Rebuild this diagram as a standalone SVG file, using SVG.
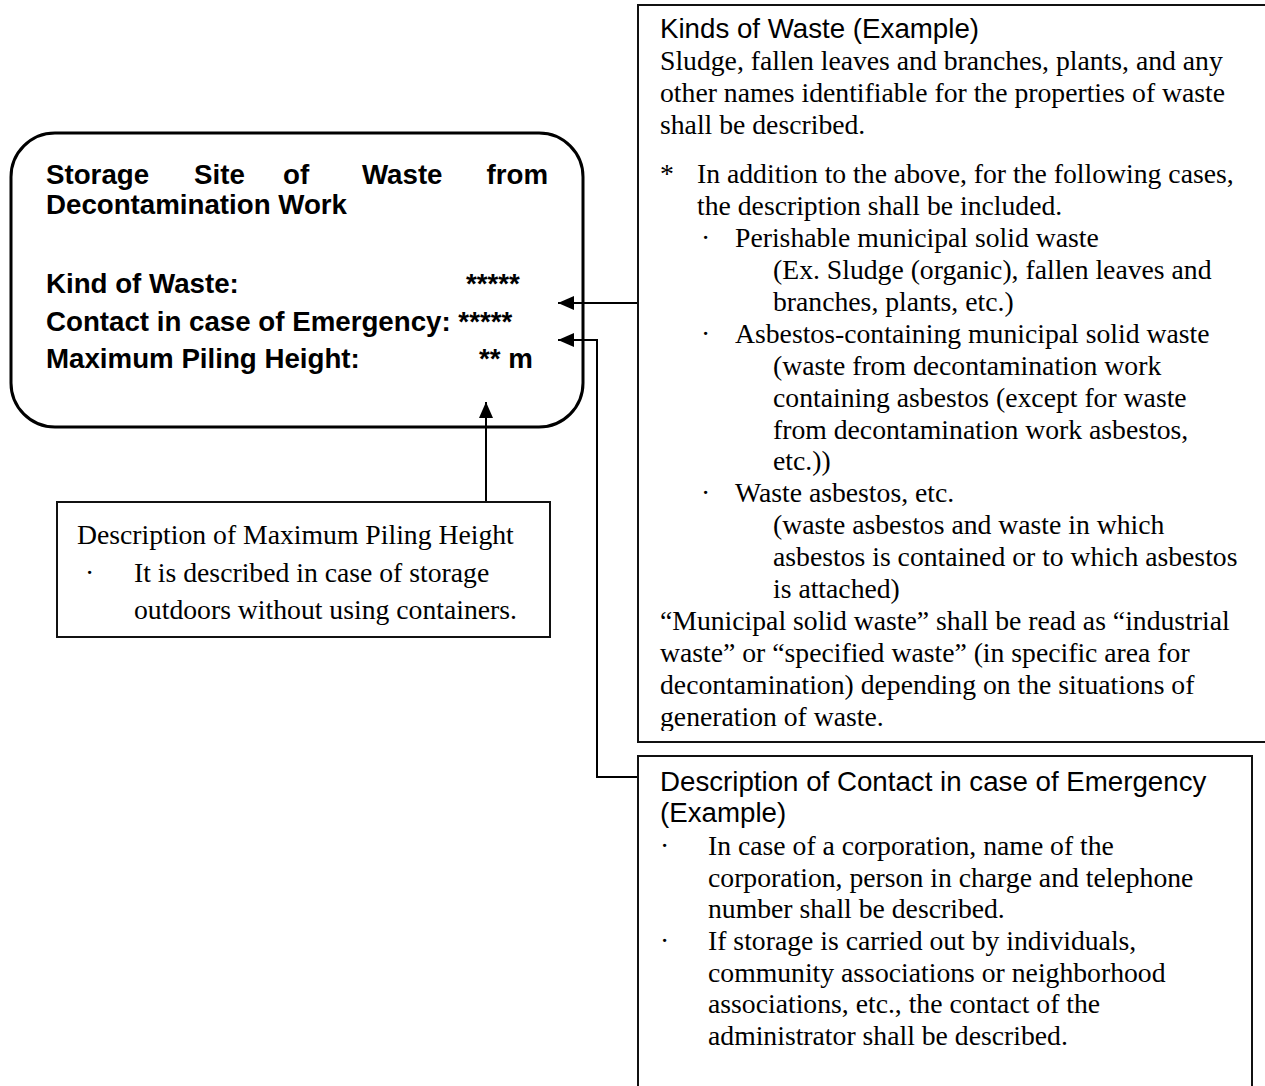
<svg xmlns="http://www.w3.org/2000/svg" width="1265" height="1086" viewBox="0 0 1265 1086">
<style>
.sb{font-family:"Liberation Sans",Arial,sans-serif;font-weight:bold;font-size:27.7px;fill:#000}
.s{font-family:"Liberation Sans",Arial,sans-serif;font-size:27.7px;fill:#000}
.t{font-family:"Liberation Serif","Times New Roman",serif;font-size:27.7px;fill:#000}
.box{fill:#fff;stroke:#111;stroke-width:2}
.con{fill:none;stroke:#000;stroke-width:2}
</style>
<defs>
<marker id="ah" viewBox="0 0 16 14" refX="16" refY="7" markerWidth="16" markerHeight="14" markerUnits="userSpaceOnUse" orient="auto">
<path d="M0,0 L16,7 L0,14 Z" fill="#000"/>
</marker>
<clipPath id="clipDesc"><rect x="57" y="502" width="493" height="123"/></clipPath>
<clipPath id="clipKinds"><rect x="638" y="5" width="627" height="726"/></clipPath>
</defs>
<rect width="1265" height="1086" fill="#fff"/>

<g id="connectors">
<line class="con" x1="638" y1="303" x2="558" y2="303" marker-end="url(#ah)"/>
<polyline class="con" points="638,777 597,777 597,340 558,340" marker-end="url(#ah)"/>
<line class="con" x1="486" y1="502" x2="486" y2="402" marker-end="url(#ah)"/>
</g>

<g id="sign">
<rect x="11" y="133" width="572" height="294" rx="44" ry="44" fill="none" stroke="#000" stroke-width="3"/>
<text class="sb" x="46" y="184">Storage</text>
<text class="sb" x="194" y="184">Site</text>
<text class="sb" x="283" y="184">of</text>
<text class="sb" x="362" y="184">Waste</text>
<text class="sb" x="548" y="184" text-anchor="end">from</text>
<text class="sb" x="46" y="214">Decontamination Work</text>
<text class="sb" x="46" y="293">Kind of Waste:</text>
<text class="sb" x="466" y="293">*****</text>
<text class="sb" x="46" y="331">Contact in case of Emergency: *****</text>
<text class="sb" x="46" y="368">Maximum Piling Height:</text>
<text class="sb" x="479" y="368">** m</text>
</g>

<g id="kinds">
<rect class="box" x="638" y="5" width="640" height="737"/>
<g clip-path="url(#clipKinds)">
<text class="s" x="660" y="38">Kinds of Waste (Example)</text>
<text class="t" x="660" y="70">Sludge, fallen leaves and branches, plants, and any</text>
<text class="t" x="660" y="102">other names identifiable for the properties of waste</text>
<text class="t" x="660" y="134">shall be described.</text>
<text class="t" x="660" y="183">*</text>
<text class="t" x="697" y="183">In addition to the above, for the following cases,</text>
<text class="t" x="697" y="215">the description shall be included.</text>
<text class="t" x="701" y="247">·</text>
<text class="t" x="735" y="247">Perishable municipal solid waste</text>
<text class="t" x="773" y="279">(Ex. Sludge (organic), fallen leaves and</text>
<text class="t" x="773" y="311">branches, plants, etc.)</text>
<text class="t" x="701" y="343">·</text>
<text class="t" x="735" y="343">Asbestos-containing municipal solid waste</text>
<text class="t" x="773" y="375">(waste from decontamination work</text>
<text class="t" x="773" y="407">containing asbestos (except for waste</text>
<text class="t" x="773" y="439">from decontamination work asbestos,</text>
<text class="t" x="773" y="470">etc.))</text>
<text class="t" x="701" y="502">·</text>
<text class="t" x="735" y="502">Waste asbestos, etc.</text>
<text class="t" x="773" y="534">(waste asbestos and waste in which</text>
<text class="t" x="773" y="566">asbestos is contained or to which asbestos</text>
<text class="t" x="773" y="598">is attached)</text>
<text class="t" x="660" y="630">“Municipal solid waste” shall be read as “industrial</text>
<text class="t" x="660" y="662">waste” or “specified waste” (in specific area for</text>
<text class="t" x="660" y="694">decontamination) depending on the situations of</text>
<text class="t" x="660" y="726">generation of waste.</text>
</g>
</g>

<g id="contact">
<rect class="box" x="638" y="756" width="614" height="345"/>
<text class="s" x="660" y="791">Description of Contact in case of Emergency</text>
<text class="s" x="660" y="822">(Example)</text>
<text class="t" x="660" y="855">·</text>
<text class="t" x="708" y="855">In case of a corporation, name of the</text>
<text class="t" x="708" y="887">corporation, person in charge and telephone</text>
<text class="t" x="708" y="918">number shall be described.</text>
<text class="t" x="660" y="950">·</text>
<text class="t" x="708" y="950">If storage is carried out by individuals,</text>
<text class="t" x="708" y="982">community associations or neighborhood</text>
<text class="t" x="708" y="1013">associations, etc., the contact of the</text>
<text class="t" x="708" y="1045">administrator shall be described.</text>
</g>

<g id="piling">
<rect class="box" x="57" y="502" width="493" height="135"/>
<g clip-path="url(#clipDesc)">
<text class="t" x="77" y="544">Description of Maximum Piling Height</text>
<text class="t" x="85" y="582">·</text>
<text class="t" x="134" y="582">It is described in case of storage</text>
<text class="t" x="134" y="619">outdoors without using containers.</text>
</g>
</g>
</svg>
